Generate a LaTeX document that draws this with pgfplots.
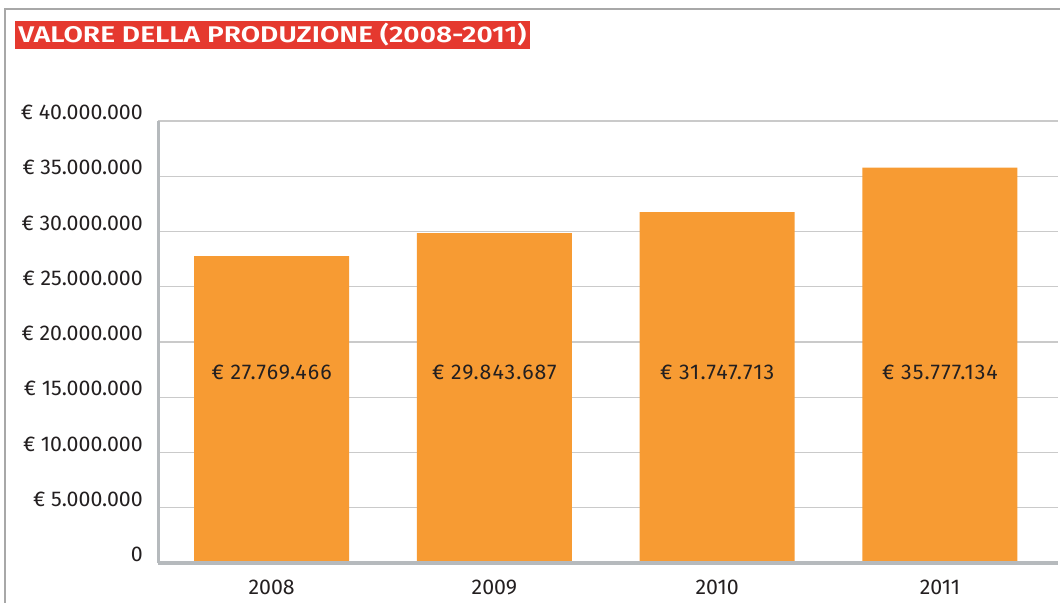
\documentclass[border=0pt]{standalone}
\usepackage{fontspec}
\setmainfont{Fira Sans}[BoldFont={Fira Sans SemiBold}]
\usepackage{graphicx}
\usepackage{pgfplots}
\pgfplotsset{compat=1.18}

\definecolor{barorange}{HTML}{F79B33}
\definecolor{titlered}{HTML}{E5392F}
\definecolor{gridgray}{HTML}{CACACA}
\definecolor{axisgray}{HTML}{B6BABD}
\definecolor{framegray}{HTML}{A8A8A8}
\definecolor{textdark}{HTML}{231F20}

\newcommand{\lbl}{\fontsize{16}{19}\selectfont}
\newcommand{\vlbl}{\fontsize{16}{19}\selectfont\addfontfeatures{LetterSpace=5}}

\begin{document}
\begin{tikzpicture}
% pixel grid of the reference: 1px = 0.75pt, origin top left
\begin{scope}[x=0.75pt, y=-0.75pt, shift={(0pt,452.25pt)}]
  \useasboundingbox (0,0) rectangle (1060,603);
  \draw[framegray, line width=1.5pt] (5,603) -- (5,9) -- (1060,9);
  \fill[titlered] (15,21) rectangle (530,49);
  \node[text=white, inner sep=0pt] at (272.5,35)
    {\resizebox{381pt}{\height}{\fontsize{17}{19}\selectfont\bfseries VALORE DELLA PRODUZIONE (2008-2011)}};
\end{scope}

\begin{axis}[
    at={(118.5pt,30pt)}, anchor=south west,
    scale only axis,
    width=675pt, height=331.5pt,
    xmin=-0.51, xmax=3.53,
    ymin=0, ymax=40000000,
    scaled y ticks=false,
    axis lines*=left,
    axis line style={draw=axisgray, line width=2.25pt, -},
    xtick={0,1,2,3},
    xticklabels={2008,2009,2010,2011},
    ytick={0,5000000,10000000,15000000,20000000,25000000,30000000,35000000,40000000},
    yticklabels={0,€ 5.000.000,€ 10.000.000,€ 15.000.000,€ 20.000.000,€ 25.000.000,€ 30.000.000,€ 35.000.000,€ 40.000.000},
    major tick length=0pt,
    ymajorgrids,
    grid style={draw=gridgray, line width=0.9pt},
    yticklabel style={font=\lbl, text=textdark, anchor=base east, inner sep=0pt, xshift=-11.25pt, yshift=1pt},
    xticklabel style={font=\lbl, text=textdark, anchor=north, inner sep=0pt, yshift=-12.75pt},
    /pgf/number format/assume math mode=true,
    clip=false,
]
\addplot[ybar, bar width=116.25pt, fill=barorange, draw=none] coordinates {
    (0,27769466)
    (1,29843687)
    (2,31747713)
    (3,35777134)
};
\draw[axisgray, line width=3pt] (rel axis cs:0,0) -- (rel axis cs:1,0);

\node[font=\vlbl, text=textdark, inner sep=0pt] at (axis cs:0,17240000) {€ 27.769.466};
\node[font=\vlbl, text=textdark, inner sep=0pt] at (axis cs:1,17240000) {€ 29.843.687};
\node[font=\vlbl, text=textdark, inner sep=0pt] at (axis cs:2,17240000) {€ 31.747.713};
\node[font=\vlbl, text=textdark, inner sep=0pt] at (axis cs:3,17240000) {€ 35.777.134};
\end{axis}
\end{tikzpicture}
\end{document}
